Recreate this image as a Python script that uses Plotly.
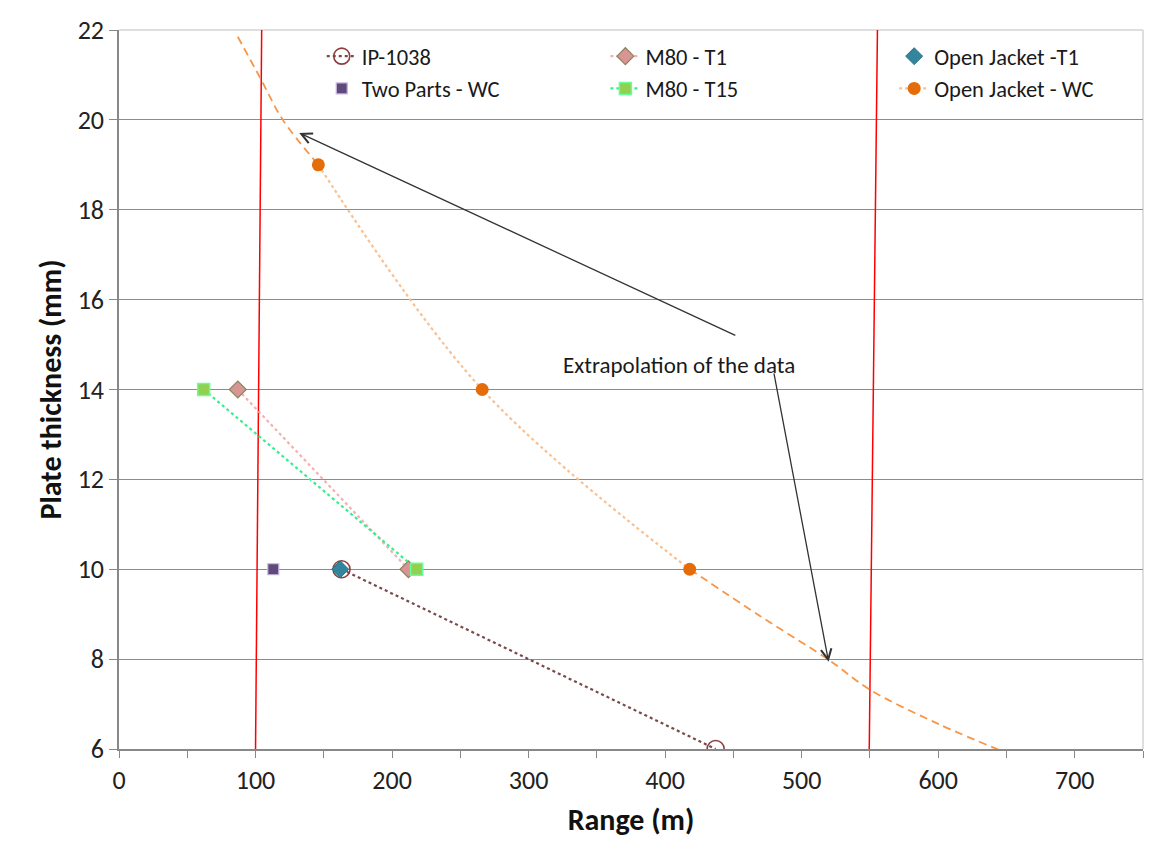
import plotly.graph_objects as go

# ---- data ----
ip_x = [163, 437]
ip_y = [10, 6]

two_parts_x = [113]
two_parts_y = [10]

m80_t1_x = [87, 212]
m80_t1_y = [14, 10]

m80_t15_x = [62, 218]
m80_t15_y = [14, 10]

oj_t1_x = [162]
oj_t1_y = [10]

oj_wc_x = [146, 266, 418]
oj_wc_y = [19, 14, 10]

# extrapolated (dashed) parts of the Open Jacket - WC curve
extrap_hi_x = [87, 104, 120, 146]
extrap_hi_y = [21.85, 20.9, 20.0, 19.0]
extrap_lo_x = [418, 470, 520, 550, 600, 655]
extrap_lo_y = [10.0, 8.95, 7.98, 7.32, 6.56, 5.85]

# red limit lines
limit1_x = [100, 104.5]
limit2_x = [549.5, 555.5]
limit_y = [6, 22]

FONT = "Carlito, Lato, 'Open Sans', sans-serif"
LEG_FONT = dict(family=FONT, size=22.5, color="#1a1a1a")

fig = go.Figure()

# limit lines
for lx in (limit1_x, limit2_x):
    fig.add_trace(go.Scatter(x=lx, y=limit_y, mode="lines",
                             line=dict(color="#ff0000", width=1.5),
                             showlegend=False, hoverinfo="skip"))

# extrapolation
for ex, ey in ((extrap_hi_x, extrap_hi_y), (extrap_lo_x, extrap_lo_y)):
    fig.add_trace(go.Scatter(x=ex, y=ey, mode="lines",
                             line=dict(color="#f79646", width=1.8, dash="8px,5px", shape="spline"),
                             showlegend=False, hoverinfo="skip"))

fig.add_trace(go.Scatter(
    x=ip_x, y=ip_y, mode="lines+markers", name="IP-1038", legend="legend",
    line=dict(color="#7a4a4a", width=2.2, dash="dot"),
    marker=dict(symbol="circle-open", size=17, color="#8c3f3f", line=dict(width=1.6, color="#8c3f3f"))))

fig.add_trace(go.Scatter(
    x=two_parts_x, y=two_parts_y, mode="markers", name="Two Parts - WC", legend="legend",
    marker=dict(symbol="square", size=11, color="#604a7b", line=dict(width=1.2, color="#c9b8de"))))

fig.add_trace(go.Scatter(
    x=m80_t1_x, y=m80_t1_y, mode="lines+markers", name="M80 - T1", legend="legend2",
    line=dict(color="#f4b0b0", width=2.2, dash="dot"),
    marker=dict(symbol="diamond", size=13, color="#d99594", line=dict(width=1.2, color="#8a8560"))))

fig.add_trace(go.Scatter(
    x=m80_t15_x, y=m80_t15_y, mode="lines+markers", name="M80 - T15", legend="legend2",
    line=dict(color="#33f08c", width=2.2, dash="dot"),
    marker=dict(symbol="square", size=12, color="#92d050", line=dict(width=1.5, color="#66ff99"))))

fig.add_trace(go.Scatter(
    x=oj_t1_x, y=oj_t1_y, mode="markers", name="Open Jacket -T1", legend="legend3",
    marker=dict(symbol="diamond", size=13, color="#31859c", line=dict(width=1, color="#2a6f82"))))

fig.add_trace(go.Scatter(
    x=oj_wc_x, y=oj_wc_y, mode="lines+markers", name="Open Jacket - WC", legend="legend3",
    line=dict(color="#fac090", width=2.2, dash="dot", shape="spline"),
    marker=dict(symbol="circle", size=13, color="#e46c0a", line=dict(width=0))))

# annotations (text + two arrows)
fig.add_annotation(x=410, y=14.55, xref="x", yref="y", text="Extrapolation of the data",
                   showarrow=False, font=dict(family=FONT, size=23, color="#1a1a1a"))
fig.add_annotation(x=132, y=19.71, ax=452.5, ay=15.19, xref="x", yref="y", axref="x", ayref="y",
                   text="", showarrow=True, arrowhead=5, arrowsize=1.6, arrowwidth=1.3,
                   arrowcolor="#333333")
fig.add_annotation(x=519.7, y=7.94, ax=479.5, ay=14.39, xref="x", yref="y", axref="x", ayref="y",
                   text="", showarrow=True, arrowhead=5, arrowsize=1.6, arrowwidth=1.3,
                   arrowcolor="#333333")

def leg(xpos):
    return dict(orientation="v", x=xpos, y=0.993, xanchor="left", yanchor="top",
                font=LEG_FONT, bgcolor="rgba(0,0,0,0)", tracegroupgap=0, itemwidth=30)

fig.update_layout(
    width=1155, height=847,
    margin=dict(l=111, r=20, t=22, b=106, autoexpand=False),
    paper_bgcolor="white", plot_bgcolor="white",
    font=dict(family=FONT, size=21, color="#222222"),
    showlegend=True,
    legend=leg(0.198),
    legend2=leg(0.475),
    legend3=leg(0.757),
    xaxis=dict(range=[0, 750], dtick=100, tick0=0, showgrid=False, automargin=False,
               ticks="outside", ticklen=7, tickcolor="#888888",
               minor=dict(dtick=50, ticks="outside", ticklen=7, tickcolor="#888888", showgrid=False),
               showline=True, linecolor="#888888", linewidth=1.5, mirror=False,
               zeroline=False,
               tickfont=dict(family=FONT, size=26, color="#222222"),
               title=dict(text="<b>Range (m)</b>", font=dict(family=FONT, size=30, color="#111111"),
                          standoff=14)),
    yaxis=dict(range=[6, 22], dtick=2, tick0=6, showgrid=True, gridcolor="#8c8c8c", gridwidth=1.2,
               automargin=False,
               ticks="outside", ticklen=8, tickcolor="#888888",
               showline=True, linecolor="#888888", linewidth=1.5,
               zeroline=False,
               tickfont=dict(family=FONT, size=26, color="#222222"),
               title=dict(text="<b>Plate thickness (mm)</b>", font=dict(family=FONT, size=30, color="#111111"),
                          standoff=7)),
)

# light plot-area border at top and right
fig.add_shape(type="line", xref="paper", yref="paper", x0=0, x1=1, y0=1, y1=1,
              line=dict(color="#d4d4d4", width=1.5), layer="below")
fig.add_shape(type="line", xref="paper", yref="paper", x0=1, x1=1, y0=0, y1=1,
              line=dict(color="#d4d4d4", width=1.5), layer="below")

fig.write_html("out.html")
